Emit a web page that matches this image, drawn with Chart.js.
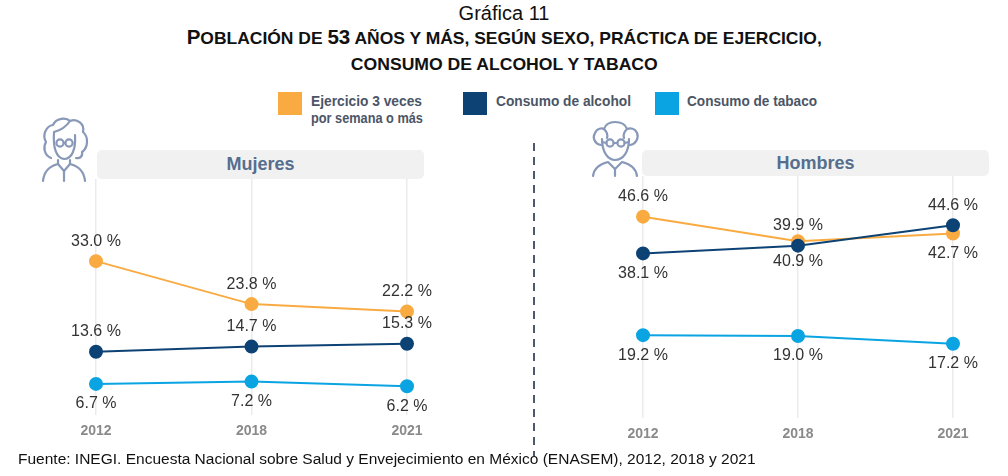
<!DOCTYPE html>
<html lang="es">
<head>
<meta charset="utf-8">
<title>Gráfica 11</title>
<script src="https://cdn.jsdelivr.net/npm/chart.js@4.4.1/dist/chart.umd.min.js"></script>
<style>
  html, body { margin: 0; padding: 0; background: #fff; }
  #page { position: relative; width: 1008px; height: 476px; overflow: hidden; font-family: Arial, "Liberation Sans", sans-serif; }
  .abs { position: absolute; }
  .fit { display: inline-block; white-space: nowrap; }
  #sup { left: 0; width: 1008px; top: 2px; text-align: center; font-size: 20px; color: #111; }
  .ttl { left: 0; width: 1008px; text-align: center; font-weight: bold; color: #111; font-size: 20px; line-height: 24px; }
  .ttl .sc { font-size: 17px; }
  #t1 { top: 25px; }
  #t2 { top: 51px; }
  .lg-box { width: 24px; height: 23px; top: 92px; }
  .lg-txt { top: 92px; font-weight: bold; font-size: 15px; line-height: 17px; color: #4b5566; }
  .lg-txt .fit { transform-origin: left center; }
  .panel-hd { background: #f1f1f1; border-radius: 5px; text-align: center; font-weight: bold; font-size: 18px; color: #566e8e; }
  #divider { left: 533px; top: 143px; width: 2px; height: 313px;
    background: repeating-linear-gradient(to bottom, #4c5a70 0, #4c5a70 8px, transparent 8px, transparent 14px); }
  #src { left: 18px; top: 450px; font-size: 15.5px; color: #111; white-space: nowrap; }
</style>
</head>
<body>
<div id="page">
  <div id="sup" class="abs">Gráfica 11</div>
  <div id="t1" class="abs ttl"><span class="fit" data-w="635">P<span class="sc">OBLACIÓN DE </span>53<span class="sc"> AÑOS Y MÁS, SEGÚN SEXO, PRÁCTICA DE EJERCICIO,</span></span></div>
  <div id="t2" class="abs ttl"><span class="fit" data-w="307"><span class="sc">CONSUMO DE ALCOHOL Y TABACO</span></span></div>

  <div class="abs lg-box" style="left:278px;background:#f9ab42"></div>
  <div class="abs lg-txt" style="left:311px"><span class="fit" data-w="111">Ejercicio 3 veces</span><br><span class="fit" data-w="112">por semana o más</span></div>
  <div class="abs lg-box" style="left:463px;background:#0d4275"></div>
  <div class="abs lg-txt" style="left:496px"><span class="fit" data-w="135">Consumo de alcohol</span></div>
  <div class="abs lg-box" style="left:655px;background:#0aa4e2"></div>
  <div class="abs lg-txt" style="left:687px"><span class="fit" data-w="130">Consumo de tabaco</span></div>

  <!-- woman icon -->
  <svg class="abs" style="left:40px;top:115px" width="52" height="68" viewBox="0 0 52 68" fill="none" stroke="#8798b8" stroke-width="2.2" stroke-linecap="round" stroke-linejoin="round">
    <path d="M11 43 C4 40 3 32 6 27 C2 20 6 11 13 10 C16 3 26 2 30 6 C37 3 45 9 43 17 C49 22 48 33 42 37 C43 41 40 44 36 43"/>
    <path d="M30 6 C26 12 22 15 14 17"/>
    <path d="M14 18 C13 32 16 43 24 44 C32 44 36 34 35 20"/>
    <circle cx="20" cy="28" r="3.6"/>
    <circle cx="29" cy="28" r="3.6"/>
    <path d="M23.6 28 L25.4 28"/>
    <path d="M3 66 C4 56 10 51 18 49 L24 56 L30 49 C38 51 44 56 45 66"/>
    <path d="M18 45 L18 49 M30 45 L30 49"/>
    <path d="M24 56 L24 66"/>
  </svg>

  <!-- man icon -->
  <svg class="abs" style="left:590px;top:118px" width="52" height="60" viewBox="0 0 52 60" fill="none" stroke="#8798b8" stroke-width="2.2" stroke-linecap="round" stroke-linejoin="round">
    <path d="M11 27 C5 26 2 20 5 15 C7 10 12 10 14 11 C16 5 22 4 25 4 C29 4 35 5 37 11 C40 10 45 10 47 15 C49 20 46 26 40 27"/>
    <path d="M14 11 C17 14 18 17 17 20 M37 11 C34 14 33 17 34 20"/>
    <path d="M12 21 C12 34 18 42 25 42 C33 42 39 34 39 21"/>
    <circle cx="20" cy="25" r="3.6"/>
    <circle cx="31" cy="25" r="3.6"/>
    <path d="M23.6 25 L27.4 25 M12 24 L16.4 25 M34.6 25 L39 24"/>
    <path d="M3 58 C4 50 10 46 18 44 L25 51 L32 44 C40 46 46 50 47 58"/>
    <path d="M25 51 L25 58"/>
  </svg>

  <div class="abs panel-hd" style="left:97px;top:150px;width:327px;height:29px;line-height:29px">Mujeres</div>
  <div class="abs panel-hd" style="left:642px;top:150px;width:347px;height:26px;line-height:26px">Hombres</div>

  <div id="divider" class="abs"></div>

  <div class="abs" style="left:40px;top:170px;width:420px;height:279px"><canvas id="cMuj"></canvas></div>
  <div class="abs" style="left:590px;top:167px;width:418px;height:284px"><canvas id="cHom"></canvas></div>

  <div id="src" class="abs">Fuente: INEGI. Encuesta Nacional sobre Salud y Envejecimiento en México (ENASEM), 2012, 2018 y 2021</div>
</div>

<script>
// years on the x axis
const years = ['2012', '2018', '2021'];

// Mujeres (%)
const mujEjercicio = [33.0, 23.8, 22.2];
const mujAlcohol = [13.6, 14.7, 15.3];
const mujTabaco = [6.7, 7.2, 6.2];

// Hombres (%)
const homEjercicio = [46.6, 40.9, 42.7];
const homAlcohol = [38.1, 39.9, 44.6];
const homTabaco = [19.2, 19.0, 17.2];

// label placement per point: 'up' or 'down'
const mujPos = {
  ejercicio: ['up', 'up', 'up'],
  alcohol: ['up', 'up', 'up'],
  tabaco: ['down', 'down', 'down']
};
const homPos = {
  ejercicio: ['up', 'down', 'down'],
  alcohol: ['down', 'up', 'up'],
  tabaco: ['down', 'down', 'down']
};

const colors = {
  ejercicio: '#f9ab42',
  alcohol: '#0d4275',
  tabaco: '#0aa4e2'
};

// squeeze the texts to the width they have in the original
document.querySelectorAll('.fit').forEach(el => {
  const target = Number(el.dataset.w);
  const w = el.getBoundingClientRect().width;
  if (w > 0) el.style.transform = 'scaleX(' + (target / w).toFixed(3) + ')';
});

// draws "33.0 %" style labels above/below points
const pointLabels = {
  id: 'pointLabels',
  afterDatasetsDraw(chart) {
    const c = chart.ctx;
    c.save();
    c.font = '16px Arial, "Liberation Sans", sans-serif';
    c.fillStyle = '#333';
    c.textAlign = 'center';
    c.textBaseline = 'middle';
    chart.data.datasets.forEach((ds, i) => {
      const meta = chart.getDatasetMeta(i);
      meta.data.forEach((pt, j) => {
        const dy = ds.labelPos[j] === 'up' ? -20 : 20;
        c.fillText(ds.data[j].toFixed(1) + ' %', pt.x, pt.y + dy);
      });
    });
    c.restore();
  }
};

function makeDs(label, data, key, pos, order) {
  return {
    label,
    data,
    labelPos: pos,
    borderColor: colors[key],
    backgroundColor: colors[key],
    pointBackgroundColor: colors[key],
    pointBorderColor: colors[key],
    borderWidth: 2,
    pointRadius: 6,
    pointHoverRadius: 6,
    tension: 0,
    clip: false,
    order
  };
}

function makeChart(id, ej, al, ta, pos, yMax, pad) {
  return new Chart(document.getElementById(id), {
    type: 'line',
    data: {
      labels: years,
      datasets: [
        makeDs('Ejercicio 3 veces por semana o más', ej, 'ejercicio', pos.ejercicio, 1),
        makeDs('Consumo de alcohol', al, 'alcohol', pos.alcohol, 0),
        makeDs('Consumo de tabaco', ta, 'tabaco', pos.tabaco, 2)
      ]
    },
    options: {
      responsive: true,
      maintainAspectRatio: false,
      animation: false,
      layout: { padding: pad },
      plugins: {
        legend: { display: false },
        tooltip: { enabled: false }
      },
      scales: {
        x: {
          offset: false,
          border: { display: false },
          grid: { color: '#ebebeb', lineWidth: 1.5, drawTicks: false },
          ticks: {
            padding: 8,
            color: '#8a8a8a',
            font: { family: 'Arial, "Liberation Sans", sans-serif', size: 14, weight: 'bold' }
          }
        },
        y: { display: false, min: 0, max: yMax }
      }
    },
    plugins: [pointLabels]
  });
}

makeChart('cMuj', mujEjercicio, mujAlcohol, mujTabaco, mujPos, 50.6, { top: 9, bottom: 1, left: 56, right: 53 });
makeChart('cHom', homEjercicio, homAlcohol, homTabaco, homPos, 56, { top: 9, bottom: 0, left: 53, right: 55 });
</script>
</body>
</html>
